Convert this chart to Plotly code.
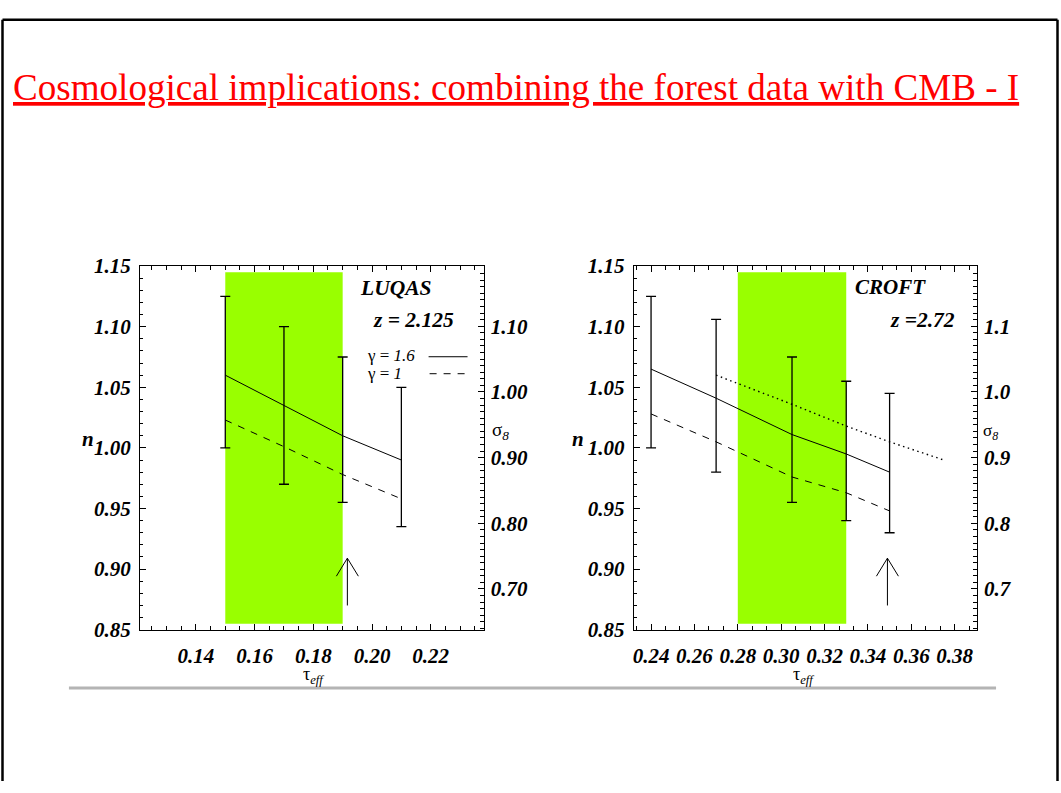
import plotly.graph_objects as go

W, H = 1061, 793

# ---- LUQAS, z = 2.125 ----
luqas_tau = [0.15, 0.17, 0.19, 0.21]
luqas_n_hi = [1.125, 1.100, 1.075, 1.050]
luqas_n_lo = [1.000, 0.970, 0.955, 0.935]
luqas_n_g16 = [1.060, 1.035, 1.010, 0.990]
luqas_n_g10 = [1.023, 1.001, 0.978, 0.958]
luqas_band_tau = [0.15, 0.19]
luqas_arrow = {"tau": 0.1916, "n_from": 0.870, "n_to": 0.909}

# ---- CROFT, z = 2.72 ----
croft_tau = [0.24, 0.27, 0.305, 0.33, 0.35]
croft_n_hi = [1.125, 1.106, 1.075, 1.055, 1.045]
croft_n_lo = [1.000, 0.980, 0.955, 0.940, 0.930]
croft_n_g16 = [1.065, 1.041, 1.011, 0.995, 0.980]
croft_n_g10 = [1.028, 1.005, 0.976, 0.963, 0.948]
croft_dot_tau = [0.27, 0.305, 0.33, 0.35, 0.375]
croft_dot_n = [1.060, 1.036, 1.018, 1.005, 0.990]
croft_band_tau = [0.28, 0.33]
croft_arrow = {"tau": 0.349, "n_from": 0.870, "n_to": 0.909}

band_n = [0.855, 1.145]

n_range = [0.85, 1.15]
sigma_range = [0.638, 1.1915]
luqas_tau_range = [0.1209, 0.238]
croft_tau_range = [0.232, 0.3902]

SERIF = "Liberation Serif"
GREEN = "#99ff00"


def px(x):
    return x / W


def py(y):
    return 1 - y / H


tick_font = dict(family=SERIF, size=21, color="black", weight="bold", style="italic")

fig = go.Figure()


def add_panel(xref, yref, tau, hi, lo, g16, g10, band, arrow):
    mid = [(a + b) / 2 for a, b in zip(hi, lo)]
    fig.add_shape(type="rect", xref=xref, yref=yref, x0=band[0], x1=band[1],
                  y0=band_n[0], y1=band_n[1], fillcolor=GREEN, line_width=0,
                  layer="below")
    fig.add_trace(go.Scatter(
        x=tau, y=mid, xaxis=xref, yaxis=yref, mode="markers",
        marker=dict(size=1, color="rgba(0,0,0,0)"),
        error_y=dict(type="data", symmetric=False,
                     array=[h - m for h, m in zip(hi, mid)],
                     arrayminus=[m - l for m, l in zip(mid, lo)],
                     color="black", thickness=1.3, width=5),
        showlegend=False, hoverinfo="skip"))
    fig.add_trace(go.Scatter(x=tau, y=g16, xaxis=xref, yaxis=yref, mode="lines",
                             line=dict(color="black", width=1), showlegend=False))
    fig.add_trace(go.Scatter(x=tau, y=g10, xaxis=xref, yaxis=yref, mode="lines",
                             line=dict(color="black", width=1, dash="7px,7px"),
                             showlegend=False))
    # upper-limit arrow: shaft in data units, open head in pixels
    fig.add_trace(go.Scatter(x=[arrow["tau"], arrow["tau"]],
                             y=[arrow["n_from"], arrow["n_to"]],
                             xaxis=xref, yaxis=yref, mode="lines",
                             line=dict(color="black", width=1), showlegend=False))
    fig.add_shape(type="path", xref=xref, yref=yref, xsizemode="pixel",
                  ysizemode="pixel", xanchor=arrow["tau"], yanchor=arrow["n_to"],
                  path="M-11,-18 L0,0 L11,-18", line=dict(color="black", width=1))


add_panel("x", "y", luqas_tau, luqas_n_hi, luqas_n_lo, luqas_n_g16,
          luqas_n_g10, luqas_band_tau, luqas_arrow)
add_panel("x2", "y3", croft_tau, croft_n_hi, croft_n_lo, croft_n_g16,
          croft_n_g10, croft_band_tau, croft_arrow)
fig.add_trace(go.Scatter(x=croft_dot_tau, y=croft_dot_n, xaxis="x2", yaxis="y3",
                         mode="lines",
                         line=dict(color="black", width=1.4, dash="1.5px,3.5px"),
                         showlegend=False))
# keep the sigma_8 axes alive
for xr, yr in (("x", "y2"), ("x2", "y4")):
    fig.add_trace(go.Scatter(x=[None], y=[None], xaxis=xr, yaxis=yr,
                             showlegend=False, hoverinfo="skip"))


def xaxis_cfg(dom, rng, tick0, minor_dtick, anchor):
    return dict(domain=dom, range=rng, anchor=anchor, tick0=tick0, dtick=0.02,
                tickformat=".2f", ticks="inside", ticklen=6, tickwidth=1,
                tickcolor="black", showline=True, linecolor="black", linewidth=1,
                mirror="ticks", showgrid=False, zeroline=False, tickfont=tick_font,
                ticklabelstandoff=7,
                minor=dict(tick0=tick0, dtick=minor_dtick, ticks="inside",
                           ticklen=3.5, tickcolor="black", showgrid=False))


def nyaxis_cfg(anchor):
    return dict(domain=[py(637), py(262)], range=n_range, anchor=anchor,
                tick0=0.85, dtick=0.05, tickformat=".2f", ticks="inside",
                ticklen=6, tickwidth=1, tickcolor="black", showline=True,
                linecolor="black", linewidth=1, showgrid=False, zeroline=False,
                tickfont=tick_font, ticklabelstandoff=4,
                minor=dict(tick0=0.85, dtick=0.01, ticks="inside", ticklen=3.5,
                           tickcolor="black", showgrid=False))


def sigaxis_cfg(anchor, overlay, fmt):
    return dict(domain=[py(637), py(262)], range=sigma_range, anchor=anchor,
                overlaying=overlay, side="right", tick0=0.7, dtick=0.1,
                tickformat=fmt, ticks="inside", ticklen=6, tickwidth=1,
                tickcolor="black", showline=True, linecolor="black", linewidth=1,
                showgrid=False, zeroline=False, tickfont=tick_font,
                ticklabelstandoff=2,
                minor=dict(tick0=0.7, dtick=0.01, ticks="inside", ticklen=3.5,
                           tickcolor="black", showgrid=False))


fig.update_layout(
    width=W, height=H, autosize=False,
    margin=dict(l=0, r=0, t=0, b=0),
    paper_bgcolor="white", plot_bgcolor="rgba(0,0,0,0)",
    showlegend=False,
    xaxis=xaxis_cfg([px(139), px(483)], luqas_tau_range, 0.14, 0.005, "y"),
    yaxis=nyaxis_cfg("x"),
    yaxis2=sigaxis_cfg("x", "y", ".2f"),
    xaxis2=xaxis_cfg([px(633.3), px(976.7)], croft_tau_range, 0.24, 0.02 / 3, "y3"),
    yaxis3=nyaxis_cfg("x2"),
    yaxis4=sigaxis_cfg("x2", "y3", ".1f"),
)

# page frame and separator rule
frame = dict(color="black", width=2.5)
fig.add_shape(type="line", xref="paper", yref="paper", x0=px(1.5), x1=px(1.5),
              y0=0, y1=py(8), line=frame)
fig.add_shape(type="line", xref="paper", yref="paper", x0=px(1057.5), x1=px(1057.5),
              y0=0, y1=py(8), line=frame)
fig.add_shape(type="line", xref="paper", yref="paper", x0=px(1.5), x1=px(1057.5),
              y0=py(8), y1=py(8), line=frame)
fig.add_shape(type="line", xref="paper", yref="paper", x0=px(68), x1=px(996),
              y0=py(697), y1=py(697), line=dict(color="#b4b4b4", width=3))


def note(x, y, text, size=18, xanchor="center", **font):
    f = dict(family=SERIF, size=size, color="black")
    f.update(font)
    fig.add_annotation(xref="paper", yref="paper", x=px(x), y=py(y), text=text,
                       showarrow=False, xanchor=xanchor, yanchor="middle", font=f)


note(10, 78, "<u>Cosmological implications: combining the forest data with CMB - I</u>",
     size=37.1, xanchor="left", color="#ff0000")

# axis titles
bi = dict(weight="bold", style="italic")
note(87, 440, "n", size=21, **bi)
note(578, 440, "n", size=21, **bi)
note(500, 432, "σ<sub><i>8</i></sub>", size=19)
note(990, 433, "σ<sub><i>8</i></sub>", size=17)
note(313, 684, "τ<sub><i>eff</i></sub>", size=18)
note(803, 684, "τ<sub><i>eff</i></sub>", size=18)

# panel labels
note(395, 285, "LUQAS", size=21.5, **bi)
note(413, 318, "z = 2.125", size=21.5, **bi)
note(890, 284, "CROFT", size=21, **bi)
note(922, 318, "z =2.72", size=21.5, **bi)

# line-style key
note(364, 354, "γ = <i>1.6</i>", size=17, xanchor="left")
note(364, 373, "γ = <i>1</i>", size=17, xanchor="left")
fig.add_shape(type="line", xref="paper", yref="paper", x0=px(428), x1=px(467),
              y0=py(355.5), y1=py(355.5), line=dict(color="black", width=1))
fig.add_shape(type="line", xref="paper", yref="paper", x0=px(429), x1=px(467),
              y0=py(373), y1=py(373), line=dict(color="black", width=1, dash="7px,7px"))

fig.write_html("out.html")
